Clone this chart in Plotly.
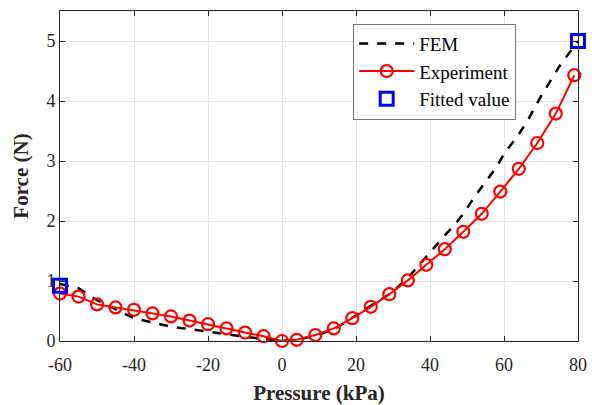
import plotly.graph_objects as go

# FEM simulation
fem_x = [-60, -55, -50, -40, -30, -20, -10, 0, 5, 10, 15, 20, 25, 30, 35, 40, 44, 47, 49, 52, 55, 58, 60, 63, 66, 70, 75, 80]
fem_y = [0.95, 0.88, 0.68, 0.38, 0.24, 0.15, 0.07, 0.0, 0.03, 0.10, 0.23, 0.43, 0.62, 0.82, 1.12, 1.48, 1.76, 1.96, 2.12, 2.40, 2.66, 2.90, 3.12, 3.36, 3.63, 4.08, 4.58, 5.0]

# Experiment
exp_x = [-60, -55, -50, -45, -40, -35, -30, -25, -20, -15, -10, -5, 0, 4, 9, 14, 19, 24, 29, 34, 39, 44, 49, 54, 59, 64, 69, 74, 79]
exp_y = [0.79, 0.74, 0.61, 0.56, 0.52, 0.46, 0.41, 0.34, 0.28, 0.21, 0.14, 0.08, 0.0, 0.02, 0.10, 0.21, 0.38, 0.57, 0.78, 1.01, 1.27, 1.53, 1.82, 2.12, 2.49, 2.87, 3.30, 3.79, 4.43]

# Fitted values
fit_x = [-60, 80]
fit_y = [0.92, 5.0]

x_ticks = [-60, -40, -20, 0, 20, 40, 60, 80]
x_tick_labels = ["-60", "-40", "-20", "0", "20", "40", "60", "80"]
y_ticks = [0, 1, 2, 3, 4, 5]
y_tick_labels = ["0", "1", "2", "3", "4", "5"]

FONT = "Liberation Serif"
AX = "#262626"

fig = go.Figure()
fig.add_trace(go.Scatter(x=fem_x, y=fem_y, mode="lines", name="FEM",
                         line=dict(color="black", width=2.5, dash="dash")))
fig.add_trace(go.Scatter(x=exp_x, y=exp_y, mode="lines+markers", name="Experiment",
                         line=dict(color="#ff0000", width=2),
                         marker=dict(symbol="circle-open", size=12, color="#ff0000",
                                     line=dict(width=2.2, color="#ff0000")),
                         cliponaxis=False))
fig.add_trace(go.Scatter(x=fit_x, y=fit_y, mode="markers", name="Fitted value",
                         marker=dict(symbol="square-open", size=13, color="#0000ff",
                                     line=dict(width=3, color="#0000ff")),
                         cliponaxis=False))

axis_common = dict(showline=True, linecolor=AX, linewidth=1, mirror="ticks",
                   ticks="inside", ticklen=5, tickcolor=AX, tickwidth=1,
                   showgrid=True, gridcolor="#e3e3e3", gridwidth=1, zeroline=False,
                   automargin=False,
                   tickfont=dict(family=FONT, size=18, color=AX))

fig.update_layout(
    width=592, height=405,
    margin=dict(l=60, r=14, t=11, b=64),
    paper_bgcolor="white", plot_bgcolor="white",
    font=dict(family=FONT),
    showlegend=True,
    legend=dict(x=0.566, y=0.962, xanchor="left", yanchor="top",
                bgcolor="white", bordercolor="#777777", borderwidth=1,
                font=dict(family=FONT, size=19, color="black"),
                itemwidth=55, tracegroupgap=0),
    xaxis=dict(range=[-60, 80], tickvals=x_ticks, ticktext=x_tick_labels,
               ticklabelstandoff=7,
               title=dict(text="<b>Pressure (kPa)</b>", standoff=12,
                          font=dict(family=FONT, size=21, color=AX)),
               **axis_common),
    yaxis=dict(range=[0, 5.5], tickvals=y_ticks, ticktext=y_tick_labels,
               title=dict(text="<b>Force (N)</b>", standoff=12,
                          font=dict(family=FONT, size=21, color=AX)),
               **axis_common),
)

fig.write_html("out.html")
